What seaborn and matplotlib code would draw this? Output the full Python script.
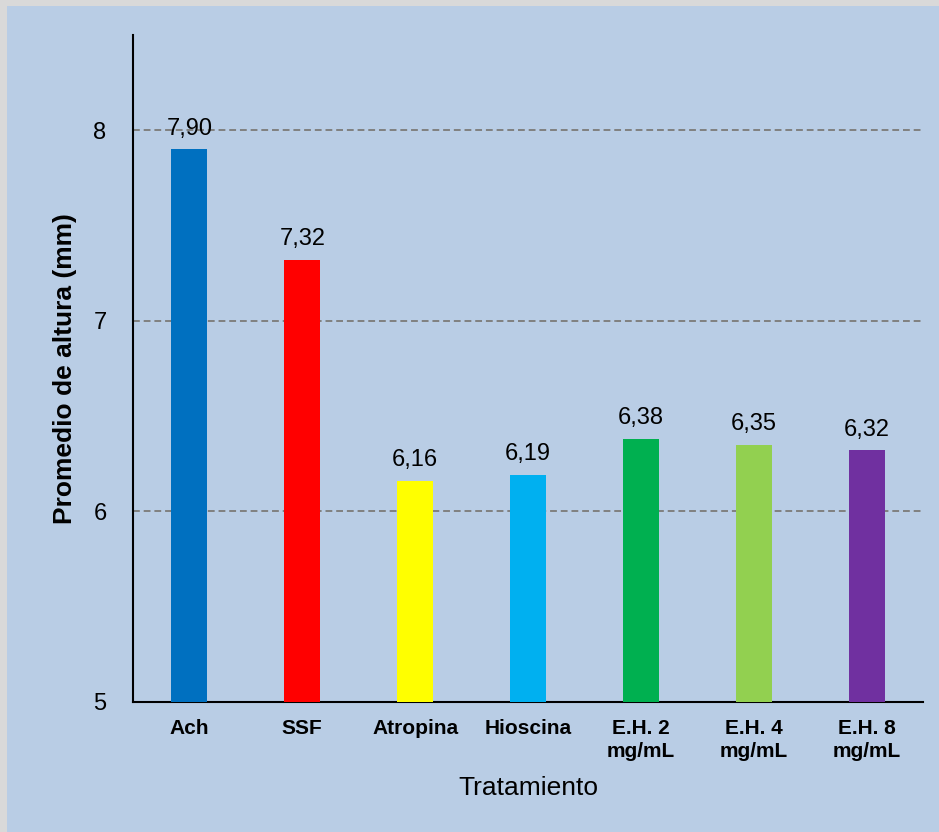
import pandas as pd
import seaborn as sns
import matplotlib.pyplot as plt
from matplotlib.patches import Rectangle

sns.set_theme(style="white")
plt.rcParams["font.family"] = ["Liberation Sans", "DejaVu Sans"]
plt.rcParams["text.color"] = "black"
plt.rcParams["axes.labelcolor"] = "black"
plt.rcParams["xtick.color"] = "black"
plt.rcParams["ytick.color"] = "black"

tratamientos = ["Ach", "SSF", "Atropina", "Hioscina", "E.H. 2\nmg/mL", "E.H. 4\nmg/mL", "E.H. 8\nmg/mL"]
alturas = [7.90, 7.32, 6.16, 6.19, 6.38, 6.35, 6.32]
colores = ["#0070C0", "#FF0000", "#FFFF00", "#00B0F0", "#00B050", "#92D050", "#7030A0"]

BG = "#B9CDE5"

df = pd.DataFrame({"Tratamiento": tratamientos, "altura": alturas})

fig = plt.figure(figsize=(9.39, 8.32), dpi=100)
fig.patch.set_facecolor("#D9D9D9")
# panel fondo azul (borde gris solo arriba e izquierda, como en la captura)
fig.patches.append(Rectangle((7 / 939, 0), 1, 1 - 6 / 832,
                             transform=fig.transFigure, facecolor=BG,
                             edgecolor="none", zorder=-10))

ax = fig.add_axes([133 / 939, 1 - 702 / 832, 790 / 939, 667 / 832])
ax.set_facecolor(BG)

sns.barplot(data=df, x="Tratamiento", y="altura", hue="Tratamiento",
            palette=colores, saturation=1, width=0.32, linewidth=0,
            legend=False, ax=ax, zorder=3)

ax.set_ylim(5, 8.5)
ax.set_xlim(-0.5, 6.5)
ax.set_yticks([5, 6, 7, 8])
ax.set_yticklabels(["5", "6", "7", "8"])
for y in [6, 7, 8]:
    ax.axhline(y, color="#808080", linestyle=(0, (3.5, 2)), linewidth=1.4, zorder=1)

for cont in ax.containers:
    ax.bar_label(cont, labels=[f"{v:.2f}".replace(".", ",") for v in cont.datavalues],
                 padding=7, fontsize=17, color="black")

ax.tick_params(axis="x", length=0, pad=12, labelsize=15)
ax.tick_params(axis="y", length=0, pad=19, labelsize=17)
for lbl in ax.get_xticklabels():
    lbl.set_fontweight("bold")
    lbl.set_linespacing(1.3)

ax.set_xlabel("Tratamiento", fontsize=19, labelpad=11)
ax.set_ylabel("Promedio de altura (mm)", fontsize=19, fontweight="bold", labelpad=12)

for side in ["top", "right"]:
    ax.spines[side].set_visible(False)
for side in ["left", "bottom"]:
    ax.spines[side].set_color("black")
    ax.spines[side].set_linewidth(1.5)

fig.savefig("out.png", dpi=100, facecolor=fig.get_facecolor())
